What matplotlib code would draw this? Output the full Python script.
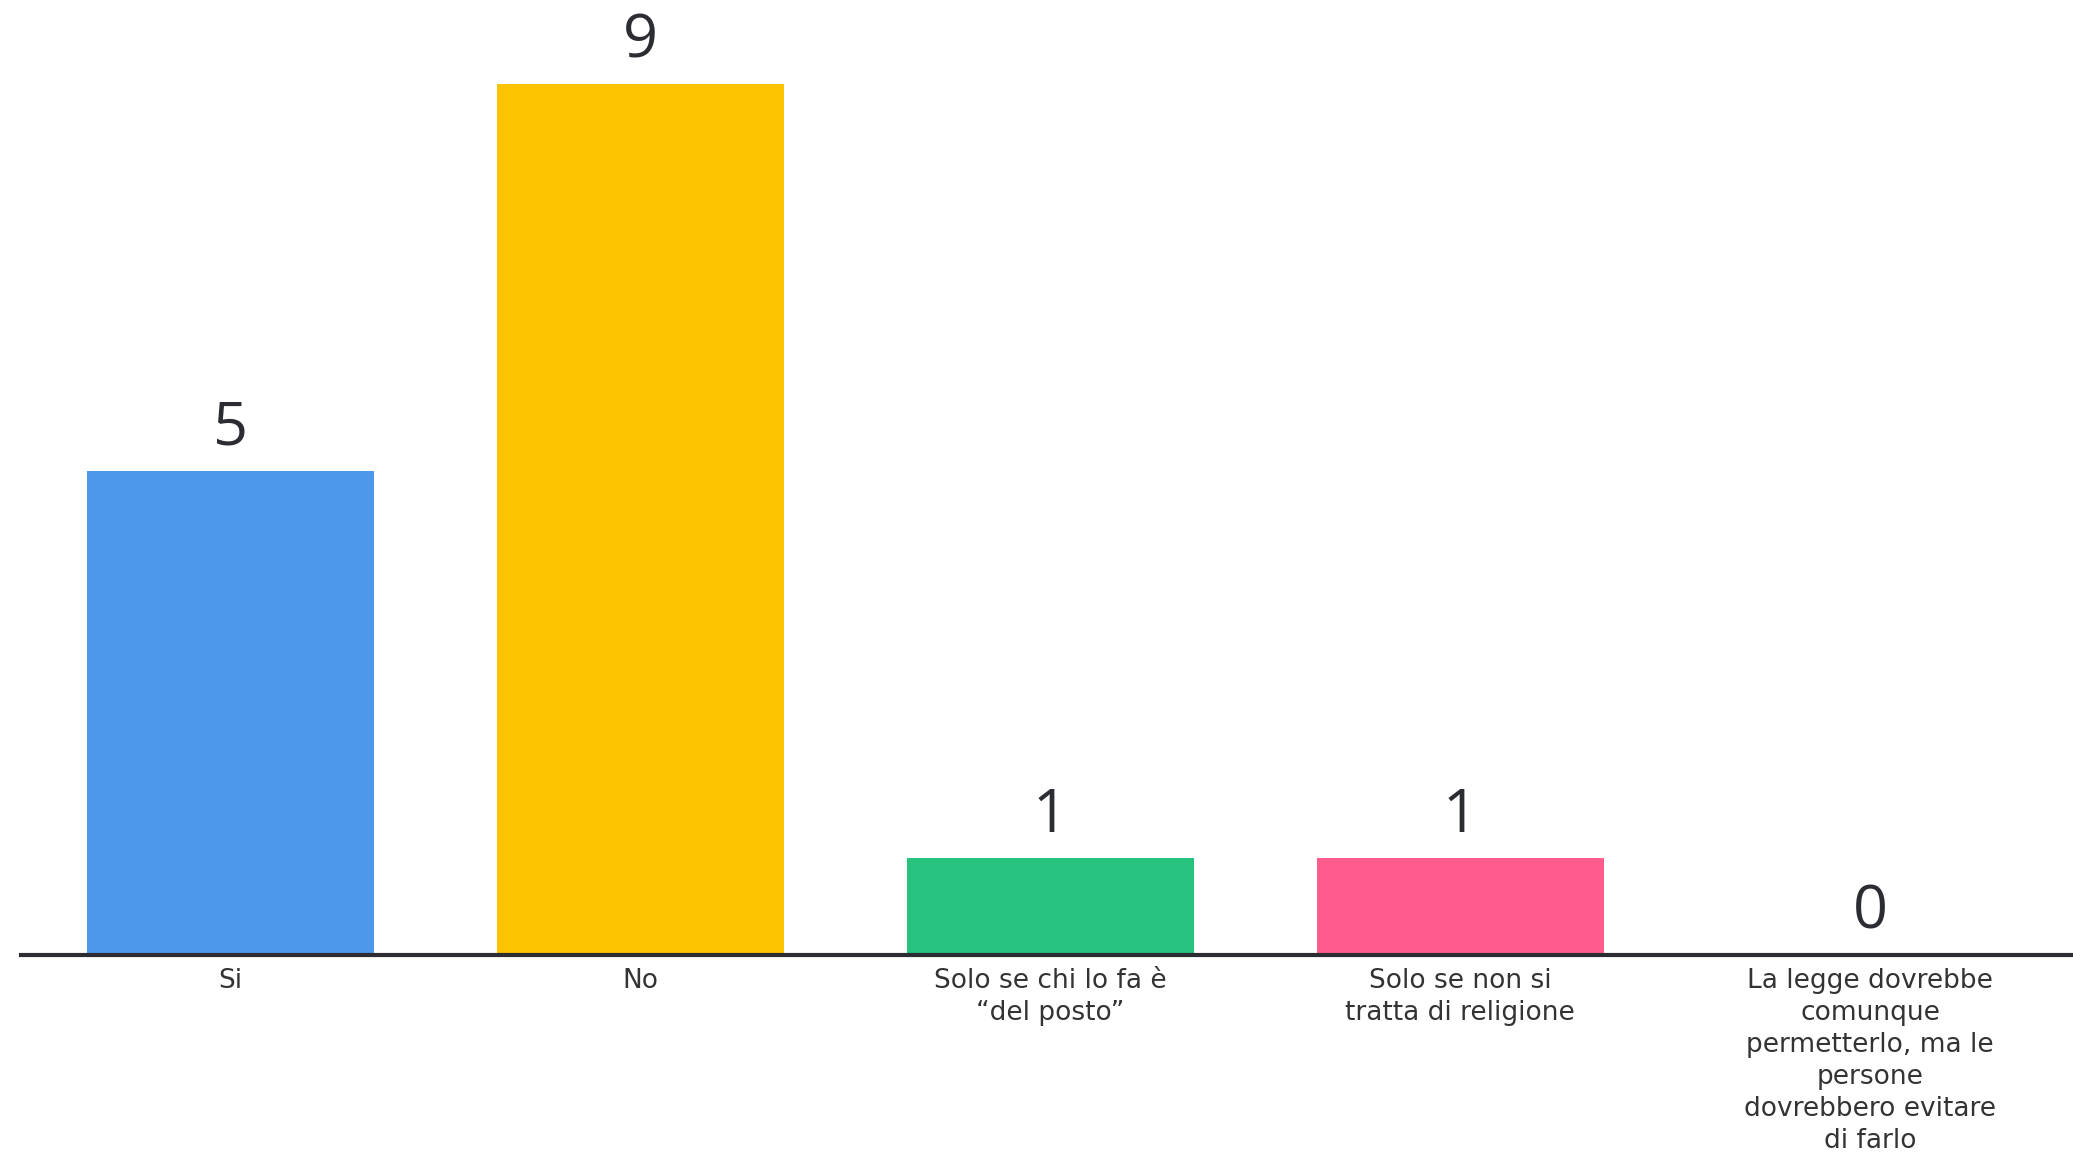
import matplotlib
matplotlib.use("Agg")
import matplotlib.pyplot as plt

# dati del grafico
categorie = [
    "Si",
    "No",
    "Solo se chi lo fa è\n\u201cdel posto\u201d",
    "Solo se non si\ntratta di religione",
    "La legge dovrebbe\ncomunque\npermetterlo, ma le\npersone\ndovrebbero evitare\ndi farlo",
]
valori = [5, 9, 1, 1, 0]
colori = ["#4e98ec", "#fcc400", "#27c27d", "#ff5b8d", "#9e9e9e"]

plt.rcParams['font.family'] = ['Open Sans', 'DejaVu Sans']

fig = plt.figure(figsize=(20.73, 11.53), dpi=100)
ax = fig.add_axes([21 / 2073, 198 / 1153, 1 - 21 / 2073, 1 - 198 / 1153])

x = list(range(len(categorie)))
bars = ax.bar(x, valori, width=0.7, color=colori)

for b, v in zip(bars, valori):
    ax.annotate(str(v), (b.get_x() + b.get_width() / 2, v),
                xytext=(0, 9), textcoords="offset points",
                ha="center", va="bottom", fontsize=44, fontweight="medium",
                color="#2b2d33")

ax.set_xlim(-0.51, 4.495)
ax.set_ylim(0, 9.866)
ax.set_xticks(x)
ax.set_xticklabels(categorie, fontsize=19, color="#333333", linespacing=1.3,
                   family=["DejaVu Sans"])
ax.tick_params(axis="x", length=0, pad=9)
ax.set_yticks([])

for s in ["top", "left", "right"]:
    ax.spines[s].set_visible(False)
ax.spines["bottom"].set_linewidth(3)
ax.spines["bottom"].set_color("#2b2d33")

fig.savefig("out.png", dpi=100)
